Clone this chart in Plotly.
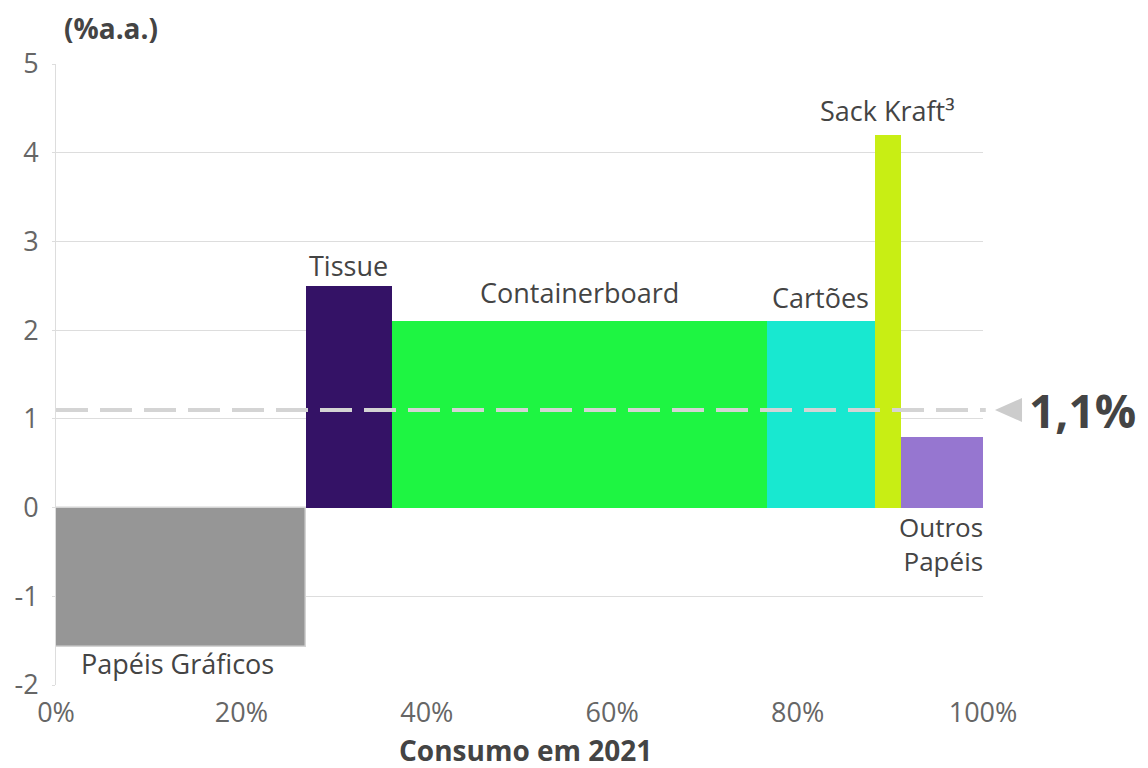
import numpy as np
import plotly.graph_objects as go

categories = ["Papéis Gráficos", "Tissue", "Containerboard", "Cartões", "Sack Kraft³", "Outros<br>Papéis"]
shares = [27.0, 9.2, 40.5, 11.6, 2.9, 8.8]          # % of 2021 consumption (bar widths)
growth = [-1.57, 2.5, 2.1, 2.1, 4.2, 0.8]           # % a.a. (bar heights)
colors = ["#969696", "#341266", "#1ef542", "#18e8d0", "#c8ee14", "#9676d0"]
average = 1.1
average_label = "1,1%"
x_title = "Consumo em 2021"
y_title = "(%a.a.)"
x_ticks = [0, 20, 40, 60, 80, 100]
x_tick_labels = ["0%", "20%", "40%", "60%", "80%", "100%"]
y_ticks = [-2, -1, 0, 1, 2, 3, 4, 5]
y_tick_labels = ["-2", "-1", "0", "1", "2", "3", "4", "5"]

starts = np.concatenate([[0], np.cumsum(shares)[:-1]])
centers = starts + np.array(shares) / 2

FONT = "Open Sans"
fig = go.Figure()
fig.add_trace(go.Bar(
    x=centers, y=growth, width=shares,
    marker=dict(color=colors,
                line=dict(color=["#d4d4d4"] + colors[1:], width=[1.5, 0, 0, 0, 0, 0])),
    showlegend=False, hoverinfo="skip"))

# average dashed line
fig.add_shape(type="line", xref="paper", yref="y", x0=0, x1=1.003, y0=average, y1=average,
              line=dict(color="#d4d4d4", width=4, dash="32px,12px"))
dy = 0.135
fig.add_shape(type="path", xref="paper", yref="y",
              path=f"M 1.0129 {average} L 1.0421 {average + dy} L 1.0421 {average - dy} Z",
              fillcolor="#cccccc", line=dict(width=0))
fig.add_annotation(xref="paper", yref="y", x=1.048, y=average, text=f"<b>{average_label}</b>",
                   showarrow=False, xanchor="left", yanchor="middle",
                   font=dict(family=FONT, size=46, color="#444444"))

# bar labels
lab_font = dict(family=FONT, size=27, color="#444444")
fig.add_annotation(x=centers[0], y=growth[0], text=categories[0], showarrow=False,
                   yanchor="top", yshift=4, xshift=-4, font=lab_font)
for i, ys in zip([1, 2, 3, 4], [0, 8, 3, 4]):
    fig.add_annotation(x=centers[i], y=growth[i], text=categories[i], showarrow=False,
                       yanchor="bottom", yshift=ys, font=lab_font)
fig.add_annotation(x=100, y=0, text=categories[5], showarrow=False, xanchor="right",
                   yanchor="middle", yshift=-36, align="right", xshift=2,
                   font=dict(family=FONT, size=26, color="#444444"))

# axis titles
fig.add_annotation(xref="paper", yref="paper", x=0.006, y=1.058, text=f"<b>{y_title}</b>",
                   showarrow=False, xanchor="left", yanchor="middle",
                   font=dict(family=FONT, size=28, color="#444444"))
fig.add_annotation(xref="paper", yref="paper", x=0.507, y=-0.1047, text=f"<b>{x_title}</b>",
                   showarrow=False, xanchor="center", yanchor="middle",
                   font=dict(family=FONT, size=28, color="#444444"))

fig.update_layout(
    width=1140, height=760,
    margin=dict(l=48, r=165, t=56, b=83, autoexpand=False),
    plot_bgcolor="white", paper_bgcolor="white",
    font=dict(family=FONT),
    bargap=0,
    xaxis=dict(range=[0, 100], tickvals=x_ticks, ticktext=x_tick_labels, showgrid=False,
               zeroline=False, showline=False, automargin=False, ticklabelstandoff=9,
               tickfont=dict(family=FONT, size=27, color="#666666")),
    yaxis=dict(range=[-2, 5], tickvals=y_ticks, ticktext=y_tick_labels, automargin=False,
               showgrid=True, gridcolor="#dddddd", gridwidth=1,
               zeroline=True, zerolinecolor="#dddddd", zerolinewidth=1,
               showline=True, linecolor="#dddddd", linewidth=1,
               ticks="outside", ticklen=3, tickcolor="#dddddd", ticklabelstandoff=8,
               tickfont=dict(family=FONT, size=27, color="#666666")),
)
fig.write_html("out.html")
